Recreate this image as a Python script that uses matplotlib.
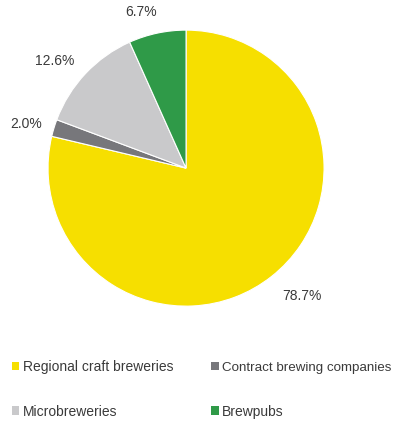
import numpy as np
import matplotlib.pyplot as plt
from matplotlib.patches import Patch

plt.rcParams['font.family'] = ['Liberation Sans', 'DejaVu Sans']

categories = ['Regional craft breweries', 'Contract brewing companies',
              'Microbreweries', 'Brewpubs']
shares = [78.7, 2.0, 12.6, 6.7]
labels = ['78.7%', '2.0%', '12.6%', '6.7%']
colors = ['#f6df00', '#77777b', '#c9c9cb', '#2f9a48']
# label placement: radius (in pie radii) and angle nudge (deg)
label_dist = [1.25, 1.2, 1.23, 1.18]
label_nudge = [4, 1.5, 4, 4]

fig = plt.figure(figsize=(3.95, 4.24), dpi=100)
ax = fig.add_axes([0.1215, 0.278, 0.699, 0.651])

wedges, _ = ax.pie(shares, colors=colors, startangle=90, counterclock=False,
                   wedgeprops=dict(edgecolor='white', linewidth=0.8))
ax.set_xlim(-1, 1)
ax.set_ylim(-1, 1)
ax.set_aspect('equal')

# percentage labels outside each wedge
for w, lab, d, n in zip(wedges, labels, label_dist, label_nudge):
    ang = np.deg2rad((w.theta1 + w.theta2) / 2 + n)
    ax.text(d * np.cos(ang), d * np.sin(ang), lab, ha='center', va='center',
            fontsize=10, color='#3a3a3a')

handles = [Patch(facecolor=c, edgecolor='none') for c in colors]
order = [0, 2, 1, 3]
leg = fig.legend([handles[i] for i in order], [categories[i] for i in order],
                 ncol=2, loc='upper left', bbox_to_anchor=(0.03, 0.151),
                 frameon=False, fontsize=10, labelcolor='#3a3a3a',
                 borderpad=0, borderaxespad=0,
                 handlelength=0.55, handleheight=0.55, handletextpad=0.25,
                 columnspacing=2.7, labelspacing=2.2)
# long label squeezed a little so it fits the right edge
leg.get_texts()[2].set_fontsize(9.6)

fig.savefig('out.png', dpi=100)
